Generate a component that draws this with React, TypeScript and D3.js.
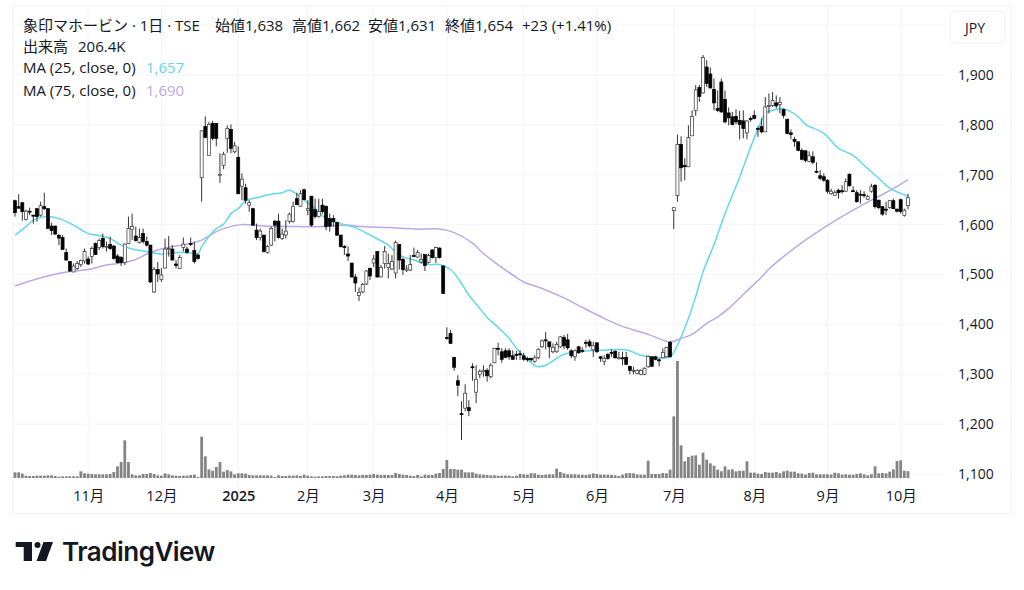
import React, { useRef, useEffect } from "react";
import * as d3 from "d3";

// Daily OHLC, one value per trading day
const opens = [
  1648,1636,1644,1610,1627,1619,1632,1619,1636,1632,
  1597,1597,1578,1574,1544,1526,1505,1512,1520,1527,
  1531,1536,1562,1554,1572,1556,1560,1557,1537,1534,
  1524,1562,1590,1577,1564,1582,1566,1559,1465,1510,
  1490,1513,1551,1551,1521,1512,1554,1551,1562,1548,
  1539,1694,1797,1739,1803,1803,1701,1719,1773,1791,
  1746,1735,1677,1674,1639,1632,1589,1574,1579,1544,
  1559,1607,1607,1572,1579,1606,1606,1652,1637,1670,
  1629,1657,1630,1616,1639,1637,1612,1612,1604,1579,
  1556,1541,1523,1495,1458,1465,1481,1512,1523,1546,
  1495,1522,1514,1511,1503,1560,1530,1508,1509,1538,
  1535,1525,1540,1524,1549,1534,1553,1517,1374,1382,
  1334,1287,1221,1232,1233,1315,1264,1300,1305,1308,
  1295,1323,1352,1345,1347,1347,1337,1340,1341,1337,
  1332,1332,1326,1333,1355,1369,1365,1345,1345,1355,
  1374,1369,1347,1335,1355,1348,1364,1365,1349,1363,
  1335,1326,1340,1344,1346,1333,1333,1334,1316,1308,
  1302,1300,1300,1315,1335,1335,1329,1333,1335,1364,
  1628,1658,1761,1719,1716,1778,1829,1875,1864,1916,
  1902,1871,1833,1886,1851,1824,1816,1817,1809,1808,
  1784,1813,1819,1793,1797,1786,1837,1839,1844,1841,
  1831,1811,1784,1771,1766,1749,1748,1727,1736,1707,
  1698,1696,1689,1662,1659,1669,1668,1667,1701,1668,
  1664,1661,1660,1651,1667,1679,1649,1636,1631,1634,
  1648,1631,1650,1618,1638,
];
const highs = [
  1650,1661,1644,1630,1634,1619,1632,1646,1664,1632,
  1604,1598,1582,1579,1552,1527,1522,1527,1530,1552,
  1536,1556,1564,1572,1582,1566,1576,1559,1541,1537,
  1562,1616,1622,1596,1592,1592,1576,1559,1515,1525,
  1513,1572,1577,1559,1529,1539,1574,1556,1574,1566,
  1542,1789,1817,1806,1808,1803,1743,1746,1799,1801,
  1766,1757,1703,1682,1649,1634,1602,1592,1579,1559,
  1596,1609,1622,1592,1609,1624,1646,1664,1669,1672,
  1649,1657,1652,1652,1652,1637,1622,1619,1606,1579,
  1559,1556,1523,1501,1474,1483,1509,1514,1539,1546,
  1519,1557,1542,1539,1568,1560,1534,1519,1539,1554,
  1549,1542,1540,1542,1551,1556,1554,1519,1394,1389,
  1334,1298,1246,1280,1248,1322,1318,1310,1318,1312,
  1322,1353,1363,1352,1352,1352,1348,1347,1348,1343,
  1335,1333,1338,1352,1370,1385,1365,1362,1365,1377,
  1379,1381,1350,1350,1357,1354,1369,1370,1365,1364,
  1336,1338,1342,1350,1348,1345,1345,1345,1316,1315,
  1310,1310,1314,1338,1336,1337,1332,1352,1355,1367,
  1634,1781,1777,1733,1799,1829,1880,1880,1940,1930,
  1915,1893,1869,1893,1869,1835,1826,1831,1828,1829,
  1809,1817,1829,1797,1813,1856,1863,1866,1859,1856,
  1833,1813,1791,1776,1767,1753,1749,1747,1747,1725,
  1709,1703,1691,1672,1669,1672,1679,1693,1703,1677,
  1669,1669,1667,1660,1682,1681,1650,1637,1646,1649,
  1652,1632,1652,1632,1662,
];
const lows = [
  1616,1632,1608,1608,1619,1602,1606,1616,1629,1592,
  1579,1580,1559,1549,1528,1505,1505,1509,1515,1522,
  1519,1522,1539,1549,1552,1546,1549,1530,1522,1517,
  1519,1561,1569,1566,1562,1562,1556,1483,1463,1485,
  1485,1512,1536,1528,1512,1511,1546,1542,1557,1522,
  1530,1646,1773,1739,1769,1757,1684,1711,1744,1743,
  1743,1661,1649,1642,1626,1597,1569,1568,1544,1542,
  1557,1566,1572,1569,1572,1602,1604,1639,1636,1649,
  1619,1596,1612,1614,1622,1589,1586,1596,1577,1554,
  1539,1527,1494,1465,1447,1463,1479,1489,1515,1494,
  1494,1512,1492,1509,1492,1510,1499,1505,1507,1535,
  1534,1522,1507,1522,1532,1523,1532,1461,1369,1361,
  1307,1256,1168,1226,1216,1287,1242,1292,1295,1285,
  1292,1322,1338,1323,1332,1329,1329,1329,1329,1327,
  1325,1325,1323,1330,1353,1350,1332,1342,1343,1353,
  1350,1349,1332,1327,1341,1343,1353,1354,1335,1343,
  1325,1318,1329,1335,1332,1330,1318,1318,1300,1300,
  1300,1298,1298,1313,1315,1328,1316,1332,1334,1334,
  1591,1646,1686,1689,1716,1778,1818,1846,1863,1876,
  1873,1829,1826,1824,1803,1799,1799,1801,1771,1773,
  1771,1806,1811,1776,1783,1786,1823,1836,1833,1823,
  1813,1781,1771,1756,1747,1729,1725,1725,1721,1703,
  1689,1686,1662,1660,1658,1652,1662,1666,1676,1666,
  1644,1642,1654,1649,1664,1632,1631,1618,1619,1632,
  1631,1624,1622,1616,1631,
];
const closes = [
  1624,1633,1626,1627,1626,1618,1616,1638,1632,1592,
  1588,1581,1573,1550,1529,1507,1517,1522,1528,1546,
  1521,1552,1540,1568,1556,1556,1552,1532,1524,1524,
  1561,1592,1596,1568,1574,1566,1559,1485,1510,1501,
  1499,1551,1552,1529,1518,1534,1561,1544,1560,1526,
  1532,1788,1775,1801,1773,1773,1701,1741,1793,1753,
  1758,1662,1691,1649,1644,1599,1574,1587,1546,1556,
  1592,1599,1574,1581,1587,1621,1636,1640,1662,1650,
  1632,1599,1616,1626,1626,1596,1597,1606,1579,1556,
  1555,1537,1495,1483,1464,1480,1507,1497,1531,1495,
  1514,1546,1522,1526,1564,1529,1510,1511,1520,1537,
  1544,1530,1518,1538,1534,1554,1534,1462,1373,1362,
  1314,1278,1220,1262,1227,1314,1290,1306,1308,1297,
  1318,1352,1351,1330,1334,1335,1330,1339,1340,1330,
  1329,1329,1333,1350,1367,1368,1355,1354,1360,1375,
  1357,1353,1337,1347,1343,1347,1363,1357,1357,1345,
  1332,1332,1332,1343,1333,1333,1332,1320,1308,1308,
  1308,1308,1312,1336,1316,1330,1328,1344,1354,1335,
  1634,1761,1714,1716,1775,1817,1870,1857,1935,1883,
  1874,1844,1829,1826,1806,1814,1801,1806,1801,1793,
  1808,1812,1813,1792,1786,1836,1839,1849,1838,1845,
  1819,1783,1781,1767,1749,1731,1729,1738,1725,1706,
  1693,1689,1667,1667,1664,1664,1667,1686,1678,1667,
  1646,1660,1659,1656,1676,1636,1634,1621,1630,1648,
  1632,1627,1626,1629,1654,
];
// Volume in thousands of shares
const volumes = [
  170,170,130,70,60,60,70,70,70,80,
  80,60,40,50,50,50,50,50,200,140,
  130,120,110,110,110,110,120,180,350,480,
  1130,480,110,80,80,120,120,150,120,80,
  70,140,110,80,70,60,70,70,90,100,
  30,1240,650,260,220,330,480,190,240,200,
  110,140,140,130,90,80,80,80,80,80,
  70,30,80,60,60,70,70,80,60,100,
  70,50,40,50,50,60,60,60,50,70,
  80,100,100,90,80,90,90,100,120,100,
  90,90,90,90,150,120,100,90,70,60,
  90,50,100,90,90,130,150,270,540,270,
  270,250,250,170,170,170,130,110,100,90,
  80,80,70,70,70,70,50,70,120,110,
  100,140,140,100,90,100,110,110,280,180,
  140,110,110,110,100,100,90,110,140,120,
  100,100,100,90,80,60,100,140,150,140,
  110,100,100,520,120,120,120,150,140,250,
  1850,3510,980,500,630,670,680,400,760,550,
  440,370,250,200,350,250,260,200,220,220,
  500,160,160,130,120,180,160,160,180,140,
  200,220,190,190,140,130,100,150,160,110,
  110,110,110,100,160,140,100,110,100,100,
  120,140,110,80,110,350,140,150,140,190,
  260,510,530,220,206,
];

// Moving averages, read at the bars listed in the matching day arrays
const ma25Days = [0,3,5,8,12,16,20,23,26,29,32,36,40,44,47,50,51,53,55,57,59,61,63,66,70,73,75,77,79,82,85,89,93,97,102,105,109,113,116,119,122,124,127,129,132,135,137,140,142,143,145,148,150,153,157,163,167,171,174,177,179,181,184,186,188,191,194,198,201,204,205,208,209,211,214,216,221,225,229,232,236,239,244];
const ma25Values = [1579,1596,1609,1616,1612,1599,1582,1578,1572,1559,1551,1546,1541,1544,1544,1542,1556,1576,1592,1601,1622,1632,1648,1654,1661,1664,1669,1661,1649,1632,1612,1602,1594,1579,1559,1539,1529,1520,1520,1510,1482,1459,1432,1414,1394,1372,1352,1329,1318,1315,1318,1332,1340,1345,1347,1349,1349,1338,1334,1333,1335,1358,1412,1456,1505,1560,1622,1695,1755,1809,1823,1831,1833,1830,1816,1801,1783,1753,1739,1719,1693,1673,1657];
const ma75Days = [0,5,10,15,20,25,30,33,36,39,43,48,51,54,57,62,68,77,85,90,95,102,110,116,120,125,128,131,137,139,144,150,155,161,166,173,179,182,185,189,192,195,199,204,206,210,215,219,225,234,240,244];
const ma75Values = [1477,1489,1499,1506,1510,1519,1524,1530,1541,1549,1556,1562,1569,1582,1592,1600,1597,1596,1596,1599,1596,1594,1591,1591,1584,1563,1542,1525,1494,1485,1472,1453,1434,1412,1396,1380,1365,1372,1380,1402,1415,1432,1460,1495,1511,1536,1564,1584,1612,1649,1672,1690];

const priceTicks = [1100, 1200, 1300, 1400, 1500, 1600, 1700, 1800, 1900];
const gridPrices = [1100, 1200, 1300, 1400, 1500, 1600, 1700, 1800, 1900, 2000];
const monthDays = [20, 40, 61, 80, 98, 118, 139, 159, 180, 202, 222, 242];
const monthLabels = ["11月", "12月", "2025", "2月", "3月", "4月", "5月", "6月", "7月", "8月", "9月", "10月"];

const headerParts = ["象印マホービン · 1日 · TSE", "始値1,638", "高値1,662", "安値1,631", "終値1,654", "+23 (+1.41%)"];
const headerStarts = [23, 215, 292, 368, 445, 522];

const FONT = "'Open Sans','Noto Sans CJK JP',sans-serif";
const TEXT = "#131722";
const GRID = "#f3f4f7";
const CYAN = "#62d8e8";
const PURPLE = "#bca8e6";

export default function App() {
    const svgRef = useRef<SVGSVGElement>(null);

    useEffect(() => {
        if (!svgRef.current) return;
        const svg = d3.select(svgRef.current);
        svg.selectAll("*").remove();

        const x = d3.scaleLinear().domain([0, 244]).range([15, 908]);
        const y = d3.scaleLinear().domain([1100, 1900]).range([474, 75]);
        const yVol = d3.scaleLinear().domain([0, 3510]).range([478, 361]);

        // Panel frame
        svg.append("rect")
            .attr("x", 13).attr("y", 6)
            .attr("width", 998).attr("height", 507.5)
            .attr("fill", "#fff")
            .attr("stroke", "#f0f2f5");

        // Grid
        svg.append("g").selectAll("line").data(gridPrices).join("line")
            .attr("x1", 13).attr("x2", 945)
            .attr("y1", d => y(d)).attr("y2", d => y(d))
            .attr("stroke", GRID);
        svg.append("g").selectAll("line").data(monthDays).join("line")
            .attr("x1", d => x(d)).attr("x2", d => x(d))
            .attr("y1", 6).attr("y2", 486)
            .attr("stroke", GRID);

        // Volume
        svg.append("g").selectAll("rect").data(volumes).join("rect")
            .attr("x", (_, i) => x(i) - 1.4)
            .attr("width", 2.8)
            .attr("y", d => yVol(d))
            .attr("height", d => yVol(0) - yVol(d))
            .attr("fill", "#848484");

        // Moving averages
        const maLine = d3.line<number>()
            .x(d => x(d))
            .curve(d3.curveCatmullRom.alpha(0.5));
        svg.append("path")
            .attr("d", maLine.y((_, i) => y(ma75Values[i]))(ma75Days))
            .attr("fill", "none").attr("stroke", PURPLE).attr("stroke-width", 1.5);
        svg.append("path")
            .attr("d", maLine.y((_, i) => y(ma25Values[i]))(ma25Days))
            .attr("fill", "none").attr("stroke", CYAN).attr("stroke-width", 1.5);

        // Candles
        const candles = svg.append("g").selectAll("g").data(opens).join("g");
        candles.append("line")
            .attr("x1", (_, i) => x(i)).attr("x2", (_, i) => x(i))
            .attr("y1", (_, i) => y(highs[i])).attr("y2", (_, i) => y(lows[i]))
            .attr("stroke", "#333").attr("stroke-width", 1);
        candles.append("rect")
            .attr("x", (_, i) => x(i) - 1.5)
            .attr("width", 3)
            .attr("y", (d, i) => y(Math.max(d, closes[i])))
            .attr("height", (d, i) => Math.max(1, Math.abs(y(d) - y(closes[i]))))
            .attr("fill", (d, i) => closes[i] >= d ? "#fff" : "#000")
            .attr("stroke", (d, i) => closes[i] >= d ? "#333" : "#000")
            .attr("stroke-width", 0.7);

        // Price scale
        const priceAxis = svg.append("g")
            .attr("transform", "translate(958,0)")
            .call(d3.axisRight(y).tickValues(priceTicks).tickSize(0).tickPadding(0).tickFormat(d3.format(",")));
        priceAxis.select(".domain").remove();
        priceAxis.selectAll("text")
            .attr("fill", TEXT).attr("font-size", 14).attr("font-family", FONT);

        // Time scale
        const timeAxis = svg.append("g")
            .attr("transform", "translate(0,491)")
            .call(d3.axisBottom(x).tickValues(monthDays).tickSize(0).tickPadding(0)
                .tickFormat((_, i) => monthLabels[i]));
        timeAxis.select(".domain").remove();
        timeAxis.selectAll("text")
            .attr("fill", TEXT).attr("font-size", 14.5).attr("font-family", FONT)
            .attr("font-weight", (_, i) => monthLabels[i] === "2025" ? 600 : 400);

        // Legend
        const legend = svg.append("g").attr("font-family", FONT).attr("font-size", 15).attr("fill", TEXT);
        headerParts.forEach((part, i) => {
            legend.append("text").attr("x", headerStarts[i]).attr("y", 31).text(part);
        });
        legend.append("text").attr("x", 23).attr("y", 52).text("出来高");
        legend.append("text").attr("x", 78).attr("y", 52).text("206.4K");
        const maRows = [
            { label: "MA (25, close, 0)", value: "1,657", color: CYAN, base: 73 },
            { label: "MA (75, close, 0)", value: "1,690", color: PURPLE, base: 96 },
        ];
        maRows.forEach(row => {
            legend.append("text").attr("x", 23).attr("y", row.base).text(row.label);
            legend.append("text").attr("x", 146).attr("y", row.base).attr("fill", row.color).text(row.value);
        });

        // Currency button
        svg.append("rect")
            .attr("x", 950).attr("y", 11)
            .attr("width", 55).attr("height", 32).attr("rx", 6)
            .attr("fill", "#fff").attr("stroke", "#eef0f3");
        svg.append("text")
            .attr("x", 975).attr("y", 33)
            .attr("text-anchor", "middle")
            .attr("font-family", FONT).attr("font-size", 14).attr("fill", TEXT)
            .text("JPY");

        // Logo
        const logo = svg.append("g").attr("fill", "#131722");
        logo.append("path").attr("d", "M15.7 542H32V561H23.7V547H15.7Z");
        logo.append("circle").attr("cx", 37.5).attr("cy", 545).attr("r", 3);
        logo.append("path").attr("d", "M43.5 542H53L46 561H36.5Z");
        logo.append("text")
            .attr("x", 62).attr("y", 561)
            .attr("font-family", "Inter,sans-serif").attr("font-size", 26).attr("font-weight", 600)
            .attr("letter-spacing", -0.5)
            .text("TradingView");
    }, []);

    return (
        <svg
            ref={svgRef}
            width={1024}
            height={590}
            style={{ position: "absolute", left: 0, top: 0, background: "#fff" }}
        />
    );
}
